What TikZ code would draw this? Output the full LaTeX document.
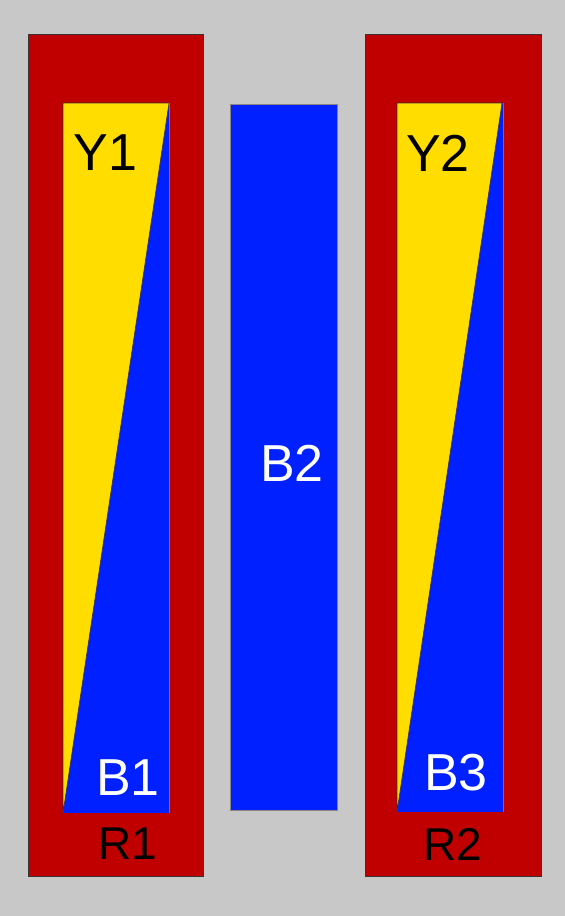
\documentclass[tikz,border=0pt]{standalone}
\usepackage{fontspec}
\setmainfont{Liberation Sans}
\definecolor{bg}{RGB}{200,200,200}
\definecolor{rd}{RGB}{192,0,0}
\definecolor{yl}{RGB}{255,221,0}
\definecolor{bl}{RGB}{0,32,255}
\definecolor{edge}{RGB}{60,50,50}
\begin{document}
\begin{tikzpicture}[x=1pt,y=-1pt,
  outer/.style={fill=rd,draw=edge,line width=0.8pt},
  yfill/.style={fill=yl,draw=edge,line width=0.6pt},
  bfill/.style={fill=bl},
  bedge/.style={draw=edge!70,line width=0.6pt},
  big/.style={font=\fontsize{52}{52}\selectfont,inner sep=0pt},
  small/.style={font=\fontsize{46}{46}\selectfont,inner sep=0pt}]
\fill[bg] (0,0) rectangle (565,916);
\useasboundingbox (0,0) rectangle (565,916);
% left red frame
\path[outer] (28,34) rectangle (203,876);
\path[bfill] (63,103) rectangle (169,813);
\path[yfill] (63,813) -- (63,103) -- (169,103) -- cycle;
\path[bedge] (169,103) -- (169,813);
% right red frame
\path[outer] (365,34) rectangle (541,876);
\path[bfill] (397,103) rectangle (503,812);
\path[yfill] (397,812) -- (397,103) -- (502,103) -- cycle;
\path[bedge] (503,103) -- (503,812);
% middle blue bar
\path[bfill,draw=edge!60,line width=0.6pt] (230,104) rectangle (337,810);
% labels
\node[big,text=black] (y1) at (105.5,153) {Y1};
\node[big,text=white] (b1) at (128,778) {B1};
\node[small,text=black] (r1) at (128,844) {R1};
\node[big,text=white] (b2) at (292,463) {B2};
\node[big,text=black] (y2) at (438,153) {Y2};
\node[big,text=white] (b3) at (456,773) {B3};
\node[small,text=black] (r2) at (453,844) {R2};
\end{tikzpicture}
\end{document}
